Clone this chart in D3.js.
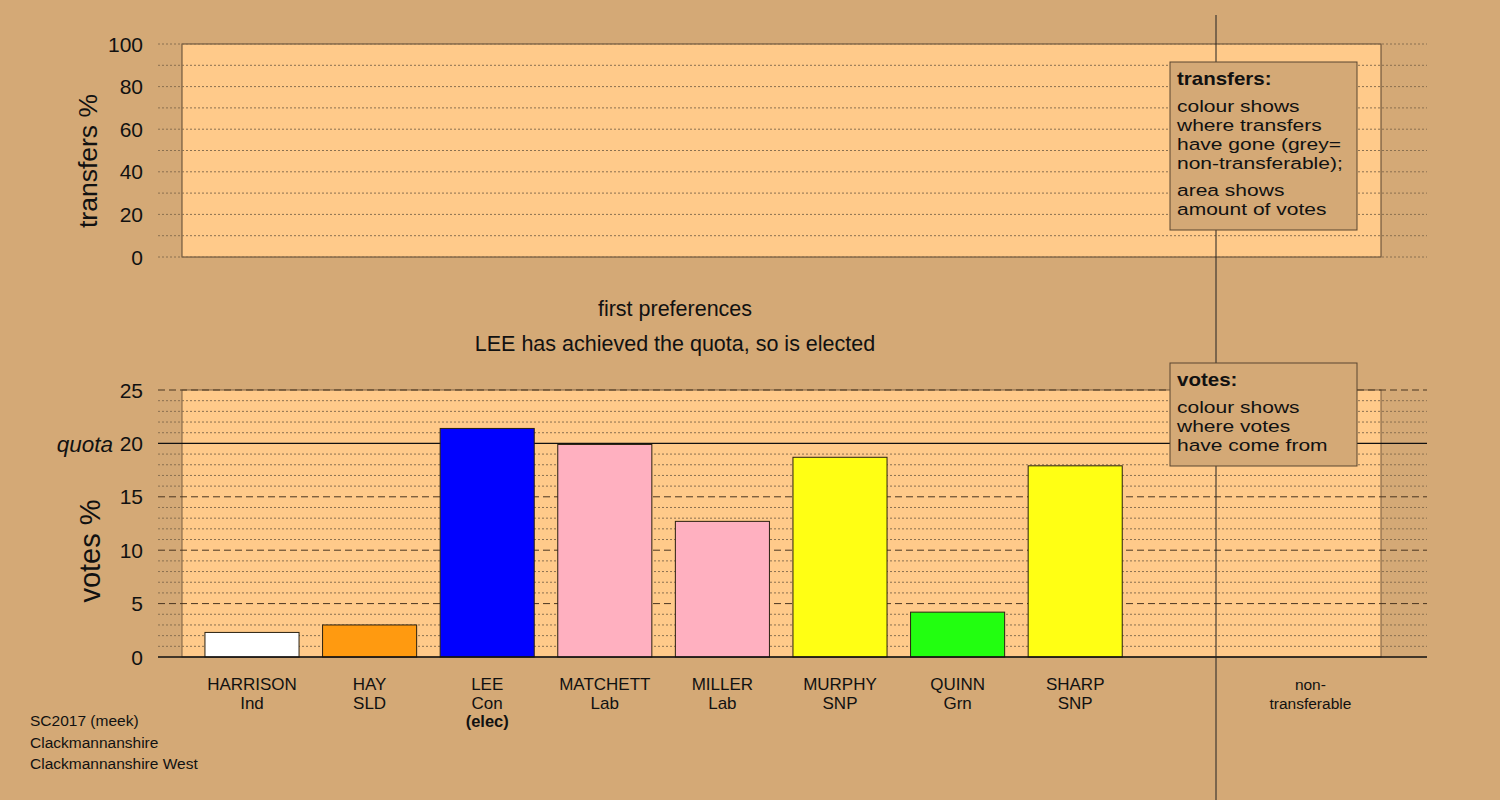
<!DOCTYPE html>
<html><head><meta charset="utf-8">
<script src="https://cdn.jsdelivr.net/npm/d3@7"></script>
<style>body{margin:0;background:#D4A976;} svg{display:block;font-family:"Liberation Sans",Arial,sans-serif;}</style>
</head><body>
<svg id="c" width="1500" height="800"></svg>
<script>
const candidates = ["HARRISON","HAY","LEE","MATCHETT","MILLER","MURPHY","QUINN","SHARP"];
const parties = ["Ind","SLD","Con","Lab","Lab","SNP","Grn","SNP"];
const elected = [false,false,true,false,false,false,false,false];
const votesPct = [2.3,3.0,21.4,19.9,12.7,18.7,4.2,17.9];
const barColors = ["#FFFFFF","#FF9A10","#0000FF","#FFB0C0","#FFB0C0","#FFFF14","#22FF10","#FFFF14"];
const quota = 20;
const voteTicks = [0,5,10,15,20,25];
const transferTicks = [0,20,40,60,80,100];
const slots = candidates.concat(["_blank","non-transferable"]);
const infoLines = ["SC2017 (meek)","Clackmannanshire","Clackmannanshire West"];

const BG="#D4A976", PANEL="#FFCA8A", INK="#111";
const svg = d3.select("#c");
svg.append("rect").attr("width",1500).attr("height",800).attr("fill",BG);

const x = d3.scaleBand().domain(slots).range([193.2,1369.2]).paddingInner(0.2).paddingOuter(0.1);
const yT = d3.scaleLinear().domain([0,100]).range([257,44]);
const yV = d3.scaleLinear().domain([0,25]).range([657,390]);
const gx0=158, gx1=1427, px0=182, px1=1381;

// top panel
svg.append("rect").attr("x",px0).attr("y",yT(100)).attr("width",px1-px0).attr("height",yT(0)-yT(100))
  .attr("fill",PANEL).attr("stroke","#5a4630").attr("stroke-width",1);
d3.range(0,101,10).forEach(v=>{
  svg.append("line").attr("x1",gx0).attr("x2",gx1).attr("y1",yT(v)).attr("y2",yT(v))
   .attr("stroke","#8a7050").attr("stroke-width",1).attr("stroke-dasharray","2,2");
});
svg.append("g").selectAll("text").data(transferTicks).join("text")
  .attr("x",143).attr("y",d=>yT(d)).attr("dy","0.36em").attr("text-anchor","end")
  .attr("font-size",21).attr("fill",INK).text(d=>d);
svg.append("text").attr("transform","translate(97,161) rotate(-90)").attr("text-anchor","middle")
  .attr("font-size",26.5).attr("fill",INK).text("transfers %");

// titles
svg.append("text").attr("x",675).attr("y",316).attr("text-anchor","middle").attr("font-size",21.5).attr("fill",INK).text("first preferences");
svg.append("text").attr("x",675).attr("y",351).attr("text-anchor","middle").attr("font-size",21.5).attr("fill",INK).text("LEE has achieved the quota, so is elected");

// bottom panel
svg.append("rect").attr("x",px0).attr("y",yV(25)).attr("width",px1-px0).attr("height",yV(0)-yV(25))
  .attr("fill",PANEL).attr("stroke","#7a5e40").attr("stroke-width",1);
d3.range(0,26,1).forEach(v=>{
  if(v===0||v===quota) return;
  const major = v%5===0;
  svg.append("line").attr("x1",gx0).attr("x2",gx1).attr("y1",yV(v)).attr("y2",yV(v))
   .attr("stroke",major?"#4a3620":"#8a7050").attr("stroke-width",1)
   .attr("stroke-dasharray",major?"7,4":"2,2");
});
svg.append("line").attr("x1",gx0).attr("x2",gx1).attr("y1",yV(quota)).attr("y2",yV(quota)).attr("stroke","#111").attr("stroke-width",1.2);

svg.append("g").selectAll("rect").data(candidates).join("rect")
  .attr("x",d=>x(d)).attr("width",x.bandwidth())
  .attr("y",(d,i)=>yV(votesPct[i])).attr("height",(d,i)=>yV(0)-yV(votesPct[i]))
  .attr("fill",(d,i)=>barColors[i]).attr("stroke","#2a2010").attr("stroke-width",1);

svg.append("line").attr("x1",gx0).attr("x2",gx1).attr("y1",yV(0)).attr("y2",yV(0)).attr("stroke","#111").attr("stroke-width",1.5);

svg.append("g").selectAll("text").data(voteTicks).join("text")
  .attr("x",143).attr("y",d=>yV(d)).attr("dy","0.36em").attr("text-anchor","end")
  .attr("font-size",21).attr("fill",INK).text(d=>d);
svg.append("text").attr("x",113).attr("y",yV(quota)).attr("dy","0.36em").attr("text-anchor","end")
  .attr("font-size",22.5).attr("font-style","italic").attr("fill",INK).text("quota");
svg.append("text").attr("transform","translate(100,551) rotate(-90)").attr("text-anchor","middle")
  .attr("font-size",29).attr("fill",INK).text("votes %");

// category labels
const lab = svg.append("g");
candidates.forEach((c,i)=>{
  const cx = x(c)+x.bandwidth()/2;
  lab.append("text").attr("x",cx).attr("y",690).attr("text-anchor","middle").attr("font-size",17).attr("fill",INK).text(c);
  lab.append("text").attr("x",cx).attr("y",709).attr("text-anchor","middle").attr("font-size",17).attr("fill",INK).text(parties[i]);
  if(elected[i]) lab.append("text").attr("x",cx).attr("y",727).attr("text-anchor","middle").attr("font-size",16.5).attr("font-weight","bold").attr("fill",INK).text("(elec)");
});
const ntx = x("non-transferable")+x.bandwidth()/2;
lab.append("text").attr("x",ntx).attr("y",690).attr("text-anchor","middle").attr("font-size",15.5).attr("fill",INK).text("non-");
lab.append("text").attr("x",ntx).attr("y",709).attr("text-anchor","middle").attr("font-size",15.5).attr("fill",INK).text("transferable");

// vertical separator
svg.append("line").attr("x1",1216).attr("x2",1216).attr("y1",15).attr("y2",800).attr("stroke","#222").attr("stroke-width",1);

// stretched text: width of a wide font size, drawn at a smaller size so lines don't collide
function stretchText(xp, yp, str, wideSize, drawSize, bold){
  const t = svg.append("text").attr("x",xp).attr("y",yp).attr("font-size",wideSize)
    .attr("font-weight",bold?"bold":"normal").attr("fill",INK).text(str);
  const w = t.node().getComputedTextLength();
  t.attr("font-size",drawSize).attr("textLength",w).attr("lengthAdjust","spacingAndGlyphs");
  return t;
}
// legend boxes
function box(x0,y0,w,h,title,groups){
  svg.append("rect").attr("x",x0).attr("y",y0).attr("width",w).attr("height",h).attr("fill",BG).attr("stroke","#5a4630").attr("stroke-width",1);
  stretchText(x0+7, y0+23, title, 20.5, 18.5, true);
  let yy = y0+23;
  groups.forEach(g=>{
    yy += 8;
    g.forEach(l=>{ yy += 19; stretchText(x0+7, yy, l, 21, 16.8, false); });
  });
}
box(1170,62,187,168,"transfers:",[["colour shows","where transfers","have gone (grey=","non-transferable);"],["area shows","amount of votes"]]);
box(1170,363,187,103,"votes:",[["colour shows","where votes","have come from"]]);

// info
svg.append("g").selectAll("text").data(infoLines).join("text")
  .attr("x",30).attr("y",(d,i)=>726+i*21.5).attr("font-size",15.5).attr("fill",INK).text(d=>d);
</script>
</body></html>
